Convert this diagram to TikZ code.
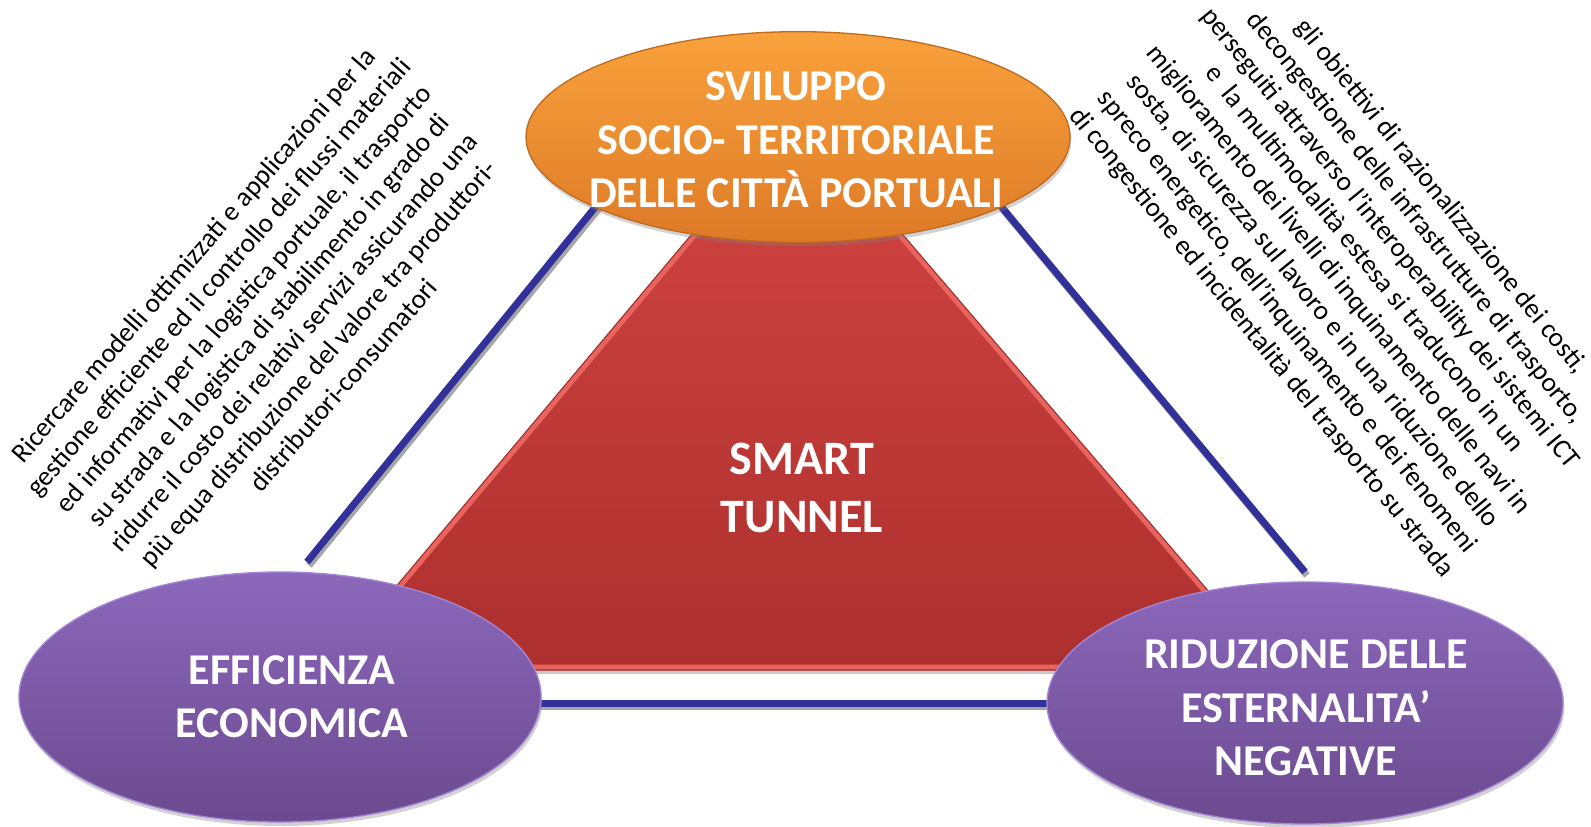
\documentclass[tikz,border=0pt]{standalone}
\usepackage{fontspec}
\setmainfont{Carlito}
\usetikzlibrary{shapes.geometric,shadows}
\definecolor{orangeTop}{HTML}{F9A23C}
\definecolor{orangeBot}{HTML}{DD7A26}
\definecolor{orangeRim}{HTML}{C06A1E}
\definecolor{purpleTop}{HTML}{8B68BB}
\definecolor{purpleBot}{HTML}{6B4A8F}
\definecolor{purpleRim}{HTML}{A585D6}
\definecolor{redTop}{HTML}{D44542}
\definecolor{redBot}{HTML}{AC302E}
\definecolor{redStripe}{HTML}{EA645F}
\definecolor{redEdge}{HTML}{9E2C29}
\definecolor{linkBlue}{HTML}{32319A}
\definecolor{shadowGray}{HTML}{A6A6A6}
\begin{document}
\begin{tikzpicture}[x=0.75pt,y=-0.75pt,
  blob/.style={ellipse, inner sep=0pt, line width=1pt,
    drop shadow={shadow xshift=1pt, shadow yshift=-3pt, opacity=0.35}},
  orangeblob/.style={blob, top color=orangeTop, bottom color=orangeBot, draw=orangeRim},
  purpleblob/.style={blob, top color=purpleTop, bottom color=purpleBot, draw=purpleRim},
  title/.style={text=white, align=center, font=\fontsize{33}{40}\selectfont\bfseries},
  core/.style={text=white, align=center, font=\fontsize{36}{44}\selectfont\bfseries},
  note/.style={text=black, align=center, inner sep=0pt, font=\fontsize{20.5}{24.8}\selectfont},
  link/.style={draw=linkBlue, line width=5.25pt,
    preaction={draw=shadowGray, line width=5.25pt, transform canvas={xshift=1.5pt, yshift=-2.6pt}}}
]
\useasboundingbox (0,0) rectangle (1591,826);
\fill[white] (0,0) rectangle (1591,826);

% connectors
\coordinate (l1) at (307,562);
\coordinate (l2) at (597,205);
\coordinate (r1) at (1000,205);
\coordinate (r2) at (1305,572);
\coordinate (b1) at (530,703.5);
\coordinate (b2) at (1060,703.5);
\draw[link] (l1) -- (l2);
\draw[link] (r1) -- (r2);
\draw[link] (b1) -- (b2);

% triangle
\coordinate (tA) at (796,110);
\coordinate (tB) at (326,670);
\coordinate (tC) at (1276,670);
\fill[shadowGray, opacity=0.6, transform canvas={xshift=0.8pt, yshift=-3pt}] (tA) -- (tB) -- (tC) -- cycle;
\begin{scope}
  \clip (tA) -- (tB) -- (tC) -- cycle;
  \path[top color=redTop, bottom color=redBot] (tA) -- (tB) -- (tC) -- cycle;
  \draw[redStripe, line width=8pt] (tA) -- (tB) -- (tC) -- cycle;
\end{scope}
\draw[redEdge, line width=0.8pt, line join=round] (tA) -- (tB) -- (tC) -- cycle;
\node[core] (smart) at (802,488) {SMART\\TUNNEL};

% ellipses
\node[orangeblob, minimum width=408pt, minimum height=158pt] (top) at (798,137) {};
\node[purpleblob, minimum width=391.5pt, minimum height=187.5pt] (left) at (280,697) {};
\node[purpleblob, minimum width=387pt, minimum height=181.5pt] (right) at (1305,703) {};

\node[title] (topT) at (796,140) {SVILUPPO\\SOCIO- TERRITORIALE\\DELLE CITTÀ PORTUALI};
\node[title] (leftT) at (292,697) {EFFICIENZA\\ECONOMICA};
\node[title] (rightT) at (1306,708) {RIDUZIONE DELLE\\ESTERNALITA’\\NEGATIVE};

% rotated notes
\node[note, rotate=49] (noteL) at (268,320) {Ricercare modelli ottimizzati e applicazioni per la\\gestione efficiente ed il controllo dei flussi materiali\\ed informativi per la logistica portuale, il trasporto\\su strada e la logistica di stabilimento in grado di\\ridurre il costo dei relativi servizi assicurando una\\più equa distribuzione del valore tra produttori-\\distributori-consumatori};
\node[note, rotate=-51] (noteR) at (1351,270) {gli obiettivi di razionalizzazione dei costi,\\decongestione delle infrastrutture di trasporto,\\perseguiti attraverso l’interoperability dei sistemi ICT\\e\ \ la multimodalità estesa si traducono in un\\miglioramento dei livelli di inquinamento delle navi in\\sosta, di sicurezza sul lavoro e in una riduzione dello\\spreco energetico, dell’inquinamento e dei fenomeni\\di congestione ed incidentalità del trasporto su strada};
\end{tikzpicture}
\end{document}
